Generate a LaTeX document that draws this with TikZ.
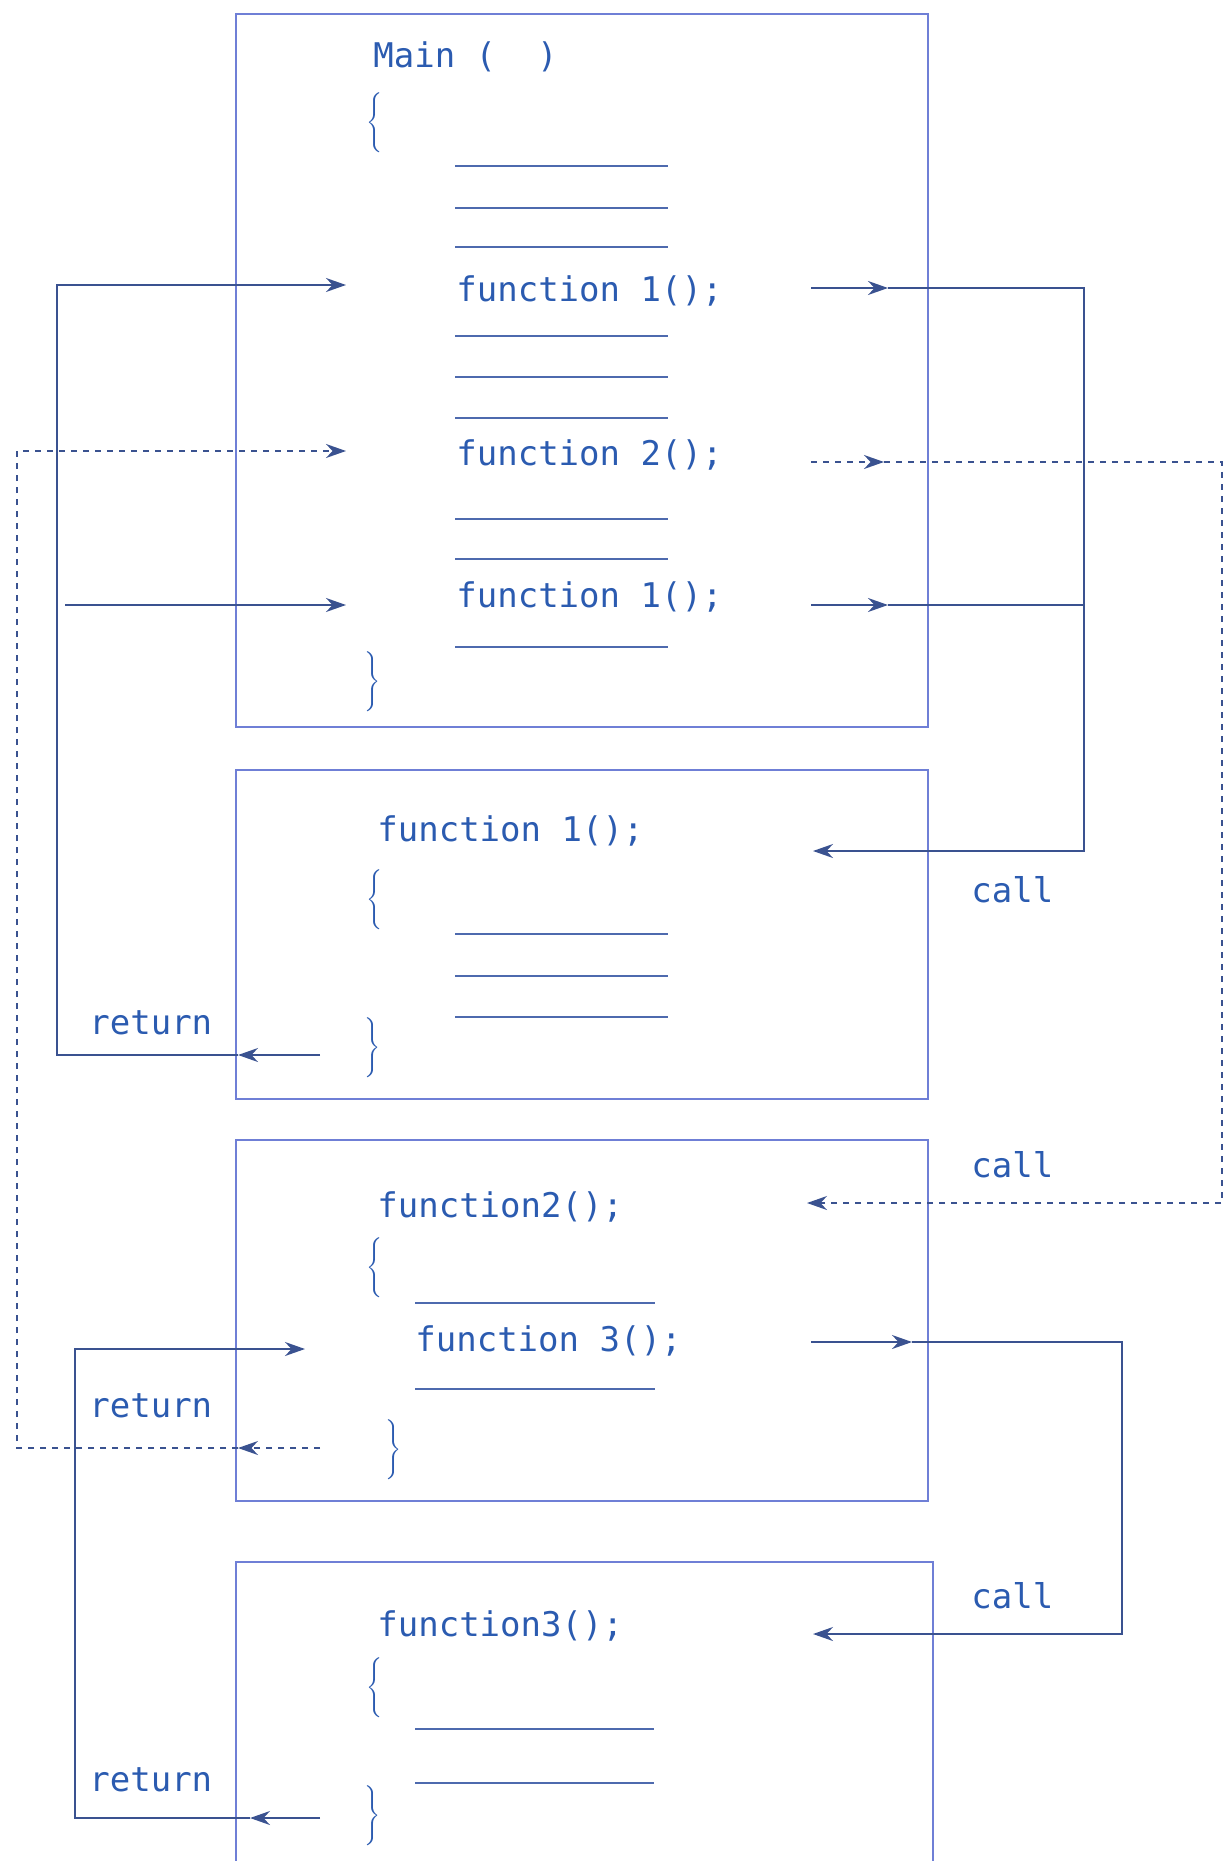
\documentclass[tikz,border=0pt]{standalone}
\usepackage{fontspec}
\newfontfamily\codefont{DejaVu Sans Mono}
\usetikzlibrary{arrows.meta}
\definecolor{codeblue}{HTML}{2B5BB0}
\definecolor{frame}{HTML}{6F7FD6}
\definecolor{ink}{HTML}{3A5290}
\definecolor{rulec}{HTML}{4E6AAE}
\tikzset{
  frame/.style={draw=frame,line width=1pt},
  code/.style={anchor=west,inner sep=0pt,text=codeblue,font=\codefont\fontsize{17}{20}\selectfont},
  brc/.style={anchor=west,inner sep=0pt,text=codeblue},
  cline/.style={draw=rulec,line width=.8pt},
  ln/.style={draw=ink,line width=.8pt},
  ar/.style={ln,-{Stealth[length=10pt,width=7pt]}},
  dsh/.style={dash pattern=on 3pt off 3pt},
}
\newcommand{\obrace}{$\left\{\vrule width0pt height13pt depth13pt\right.$}
\newcommand{\cbrace}{$\left.\vrule width0pt height13pt depth13pt\right\}$}
\begin{document}
\begin{tikzpicture}[x=0.5pt,y=-0.5pt]
  \useasboundingbox (0,0) rectangle (1226,1861);
  % boxes
  \draw[frame] (236,14) rectangle (928,727);
  \draw[frame] (236,770) rectangle (928,1099);
  \draw[frame] (236,1140) rectangle (928,1501);
  \draw[frame] (236,1861) |- (933,1562) -- (933,1861);
  % main
  \node[code] (mainhd) at (373,57) {Main (\ \ )};
  \node[brc] (mob) at (366,123) {\obrace};
  \draw[cline] (455,166) -- (668,166);
  \draw[cline] (455,208) -- (668,208);
  \draw[cline] (455,247) -- (668,247);
  \node[code] (fm1) at (456,291) {function 1();};
  \draw[cline] (455,336) -- (668,336);
  \draw[cline] (455,377) -- (668,377);
  \draw[cline] (455,418) -- (668,418);
  \node[code] (fm2) at (456,455) {function 2();};
  \draw[cline] (455,519) -- (668,519);
  \draw[cline] (455,559) -- (668,559);
  \node[code] (fm3) at (456,597) {function 1();};
  \draw[cline] (455,647) -- (668,647);
  \node[brc] (mcb) at (362,682) {\cbrace};
  % function 1
  \node[code] (fahd) at (377,831) {function 1();};
  \node[brc] (fab) at (366,900) {\obrace};
  \draw[cline] (455,934) -- (668,934);
  \draw[cline] (455,976) -- (668,976);
  \draw[cline] (455,1017) -- (668,1017);
  \node[brc] (facb) at (362,1048) {\cbrace};
  % function 2
  \node[code] (fbhd) at (377,1207) {function2();};
  \node[brc] (fbb) at (366,1268) {\obrace};
  \draw[cline] (415,1303) -- (655,1303);
  \node[code] (fb3) at (415,1341) {function 3();};
  \draw[cline] (415,1389) -- (655,1389);
  \node[brc] (fbcb) at (383,1450) {\cbrace};
  % function 3
  \node[code] (fchd) at (377,1626) {function3();};
  \node[brc] (fcb) at (366,1688) {\obrace};
  \draw[cline] (415,1729) -- (654,1729);
  \draw[cline] (415,1783) -- (654,1783);
  \node[brc] (fccb) at (362,1816) {\cbrace};
  % labels
  \node[code] (call1) at (971,890) {call};
  \node[code] (call2) at (971,1165) {call};
  \node[code] (call3) at (971,1596) {call};
  \node[code] (ret1) at (89,1023) {return};
  \node[code] (ret2) at (89,1406) {return};
  \node[code] (ret3) at (89,1780) {return};
  % call / return points
  \coordinate (c1s) at (811,288); \coordinate (c1m) at (888,288);
  \coordinate (c1r) at (1084,288); \coordinate (a1in) at (813,851);
  \coordinate (c3s) at (811,605); \coordinate (c3m) at (888,605);
  \coordinate (c3r) at (1084,605);
  \coordinate (c2s) at (811,462); \coordinate (c2m) at (884,462);
  \coordinate (c2r) at (1222,462); \coordinate (b1in) at (807,1203);
  \coordinate (c4s) at (811,1342); \coordinate (c4m) at (912,1342);
  \coordinate (c4r) at (1122,1342); \coordinate (c1in) at (813,1634);
  \coordinate (r1s) at (320,1055); \coordinate (r1m) at (238,1055);
  \coordinate (r1c) at (57,1055); \coordinate (m1in) at (346,285);
  \coordinate (r3s) at (65,605); \coordinate (m3in) at (346,605);
  \coordinate (r2s) at (320,1448); \coordinate (r2m) at (238,1448);
  \coordinate (r2c) at (17,1448); \coordinate (m2in) at (346,451);
  \coordinate (r4s) at (320,1818); \coordinate (r4m) at (250,1818);
  \coordinate (r4c) at (75,1818); \coordinate (b3in) at (305,1349);
  % calls
  \draw[ar] (c1s) -- (c1m);
  \draw[ar] (c1m) -- (c1r) |- (a1in);
  \draw[ar] (c3s) -- (c3m);
  \draw[ln] (c3m) -- (c3r);
  \draw[ar,dsh] (c2s) -- (c2m);
  \draw[ar,dsh] (c2m) -- (c2r) |- (b1in);
  \draw[ar] (c4s) -- (c4m);
  \draw[ar] (c4m) -- (c4r) |- (c1in);
  % returns
  \draw[ar] (r1s) -- (r1m);
  \draw[ar] (r1m) -- (r1c) |- (m1in);
  \draw[ar] (r3s) -- (m3in);
  \draw[ar,dsh] (r2s) -- (r2m);
  \draw[ar,dsh] (r2m) -- (r2c) |- (m2in);
  \draw[ar] (r4s) -- (r4m);
  \draw[ar] (r4m) -- (r4c) |- (b3in);
\end{tikzpicture}
\end{document}
